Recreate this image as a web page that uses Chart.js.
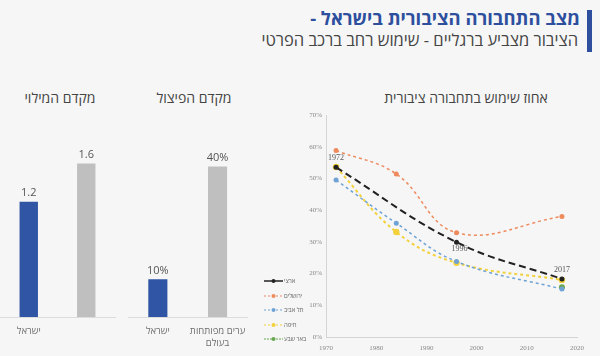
<!DOCTYPE html>
<html><head><meta charset="utf-8">
<script src="https://cdn.jsdelivr.net/npm/chart.js@4/dist/chart.umd.min.js"></script>
<style>
html,body{margin:0;padding:0;}
body{width:600px;height:356px;background:#f6f6f6;overflow:hidden;position:relative;font-family:"Open Sans","Liberation Sans","DejaVu Sans",sans-serif;}
.abs{position:absolute;}
#title{right:20px;top:5px;font-size:18.4px;font-weight:bold;color:#2d4f9e;white-space:nowrap;direction:rtl;}
#subtitle{right:22px;top:28px;font-size:16.5px;color:#444;white-space:nowrap;direction:rtl;}
#bar{left:587px;top:10px;width:5px;height:42px;background:#2d4f9e;}
.ctitle{font-size:14px;color:#444;white-space:nowrap;direction:rtl;transform:translateX(-50%);top:88px;}
#legend{left:264px;top:274px;font-size:6px;color:#666;}
#legend div{height:14.5px;display:flex;align-items:center;white-space:nowrap;}
#legend svg{margin-right:1px;}
</style></head>
<body>
<div id="bar" class="abs"></div>
<div id="title" class="abs">מצב התחבורה הציבורית בישראל -</div>
<div id="subtitle" class="abs">הציבור מצביע ברגליים - שימוש רחב ברכב הפרטי</div>
<div class="abs ctitle" style="left:60px">מקדם המילוי</div>
<div class="abs ctitle" style="left:194px">מקדם הפיצול</div>
<div class="abs ctitle" style="left:466px">אחוז שימוש בתחבורה ציבורית</div>
<canvas id="c1" class="abs" style="left:0;top:85px" width="120" height="271"></canvas>
<canvas id="c2" class="abs" style="left:125px;top:85px" width="130" height="271"></canvas>
<canvas id="c3" class="abs" style="left:300px;top:85px" width="300" height="271"></canvas>
<div id="legend" class="abs"></div>
<script>
// ---- data ----
const barCategories = ['ישראל', ['ערים מפותחות', 'בעולם']];
const fillFactor = [1.2, 1.6];      // מקדם המילוי
const splitFactor = [10, 40];       // מקדם הפיצול (%)

const lineYears = [1972, 1984, 1996, 2017];
const seriesNames = ['ארצי', 'ירושלים', 'תל אביב', 'חיפה', 'באר שבע'];
const national  = [53.5, null, 29.9, 18.3];
const jerusalem = [58.8, 51.4, 32.9, 38.0];
const telAviv   = [49.5, 35.9, 23.8, 15.1];
const haifa     = [53.6, 33.1, 23.4, 18.0];
const beerSheva = [null, null, null, 15.7];
const seriesValues = [national, jerusalem, telAviv, haifa, beerSheva];
const xTickYears = [1970, 1980, 1990, 2000, 2010, 2020];

// ---- styles ----
const barColors = ['#2f55a4', '#bfbfbf'];
const lineColors = ['#222222', '#ee8a5c', '#6fa3d6', '#f2d13a', '#6aa84f'];
const lineDash = [[7, 4], [3, 3], [3, 3], [3, 3], [3, 3]];
const lineWidths = [2, 1.5, 1.5, 2, 1.5];
const pointR = [2.5, 2.5, 2.5, 3.2, 3];
const yearLabelPos = ['top', 'bottom', 'top'];

const barLabelPlugin = {
  id: 'barLabels',
  afterDatasetsDraw(chart, args, opts) {
    const ctx = chart.ctx;
    const ds = chart.data.datasets[0];
    chart.getDatasetMeta(0).data.forEach((el, i) => {
      ctx.save();
      ctx.font = '11px "Open Sans","Liberation Sans",sans-serif';
      ctx.fillStyle = '#555';
      ctx.textAlign = 'center';
      ctx.textBaseline = 'bottom';
      ctx.fillText(opts.fmt(ds.data[i]), el.x, el.y - 3);
      ctx.restore();
    });
  }
};

function barChart(id, values, yMax, fmt) {
  return new Chart(document.getElementById(id), {
    type: 'bar',
    data: { labels: barCategories, datasets: [{ data: values, backgroundColor: barColors, barPercentage: 0.32, categoryPercentage: 1 }] },
    options: {
      responsive: false, animation: false,
      layout: { padding: { top: 40, left: id === 'c1' ? 0 : 3, right: id === 'c1' ? 5 : 3, bottom: 0 } },
      plugins: { legend: { display: false }, tooltip: { enabled: false }, barLabels: { fmt } },
      scales: {
        x: {
          grid: { drawOnChartArea: false, drawTicks: false },
          border: { display: true, color: '#dcdcdc', width: 1 },
          ticks: { color: '#707070', font: { size: 9.5, family: '"Open Sans","Liberation Sans",sans-serif', lineHeight: 1.2 }, padding: 9, maxRotation: 0 },
          afterFit: s => { s.height = 39; }
        },
        y: { display: false, min: 0, max: yMax }
      }
    },
    plugins: [barLabelPlugin]
  });
}
barChart('c1', fillFactor, 2.0, v => v.toFixed(1));
barChart('c2', splitFactor, 51, v => v + '%');

const yearLabelPlugin = {
  id: 'yearLabels',
  afterDatasetsDraw(chart) {
    const ctx = chart.ctx;
    const meta = chart.getDatasetMeta(0);
    ctx.save();
    ctx.font = '8px "Liberation Serif","DejaVu Serif",serif';
    ctx.fillStyle = '#555';
    ctx.textAlign = 'center';
    meta.data.forEach((el, i) => {
      const pos = yearLabelPos[i];
      ctx.textBaseline = pos === 'top' ? 'bottom' : 'top';
      ctx.fillText(String(chart.data.datasets[0].data[i].x), el.x + (pos === 'top' ? 0 : 3), pos === 'top' ? el.y - 5 : el.y + 3);
    });
    ctx.restore();
  }
};

const lineDatasets = seriesNames.map((name, k) => ({
  label: name,
  data: lineYears.map((yr, i) => ({ x: yr, y: seriesValues[k][i] })).filter(p => p.y !== null),
  borderColor: lineColors[k],
  backgroundColor: lineColors[k],
  borderDash: lineDash[k],
  borderWidth: lineWidths[k],
  pointRadius: pointR[k],
  pointBorderWidth: 0,
  tension: 0.4,
  fill: false
}));

new Chart(document.getElementById('c3'), {
  type: 'line',
  data: { datasets: lineDatasets },
  options: {
    responsive: false, animation: false,
    layout: { padding: { top: 30, right: 23, left: 0, bottom: 0 } },
    plugins: { legend: { display: false }, tooltip: { enabled: false } },
    scales: {
      x: {
        type: 'linear', min: 1970, max: 2020,
        afterBuildTicks: s => { s.ticks = xTickYears.map(v => ({ value: v })); },
        grid: { drawOnChartArea: false, drawTicks: false },
        border: { display: true, color: '#d4d4d4' },
        ticks: { color: '#888', font: { size: 7, family: '"Liberation Serif","DejaVu Serif",serif' }, padding: 7, callback: v => String(v) },
        afterFit: s => { s.height = 19; }
      },
      y: {
        min: 0, max: 70,
        grid: { drawOnChartArea: false, drawTicks: false },
        border: { display: true, color: '#d4d4d4' },
        ticks: { stepSize: 10, color: '#888', font: { size: 7, family: '"Liberation Serif","DejaVu Serif",serif' }, padding: 4, callback: v => v + '%' },
        afterFit: s => { s.width = 26; }
      }
    }
  },
  plugins: [yearLabelPlugin]
});

// legend
const lg = document.getElementById('legend');
seriesNames.forEach((name, k) => {
  const row = document.createElement('div');
  const dash = k === 0 ? '' : (k === 4 ? 'stroke-dasharray="2,1"' : 'stroke-dasharray="2,2"');
  row.innerHTML = `<svg width="19" height="6"><line x1="0" y1="3" x2="19" y2="3" stroke="${lineColors[k]}" stroke-width="${k === 0 ? 1.5 : 1}" ${dash}/><circle cx="9.5" cy="3" r="2" fill="${lineColors[k]}"/></svg><span dir="rtl">${name}</span>`;
  lg.appendChild(row);
});
</script>
</body></html>
